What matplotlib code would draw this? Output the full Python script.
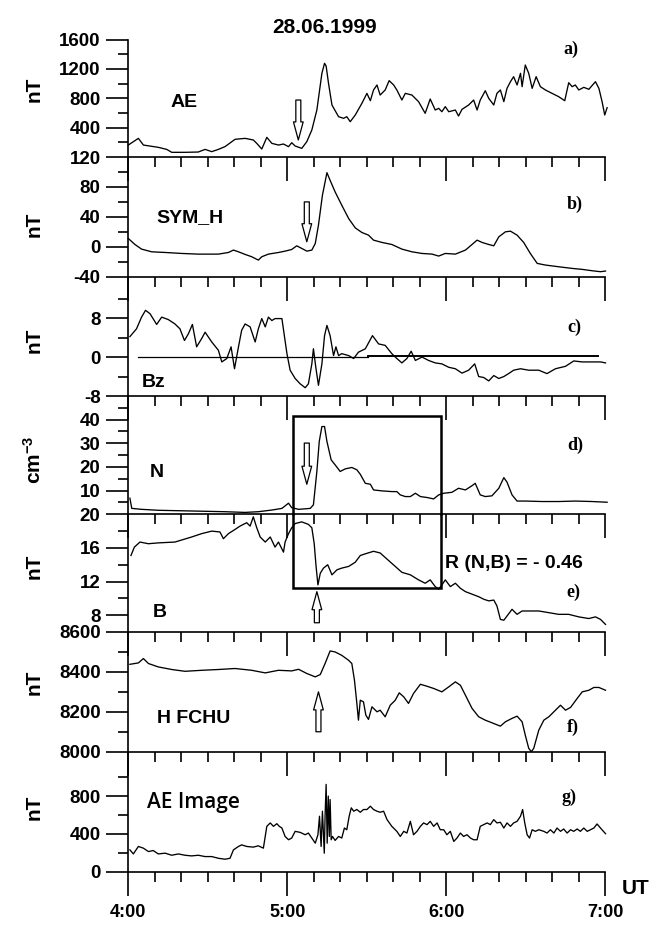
import matplotlib
matplotlib.use("Agg")
import matplotlib.pyplot as plt

plt.rcParams["font.family"] = ["Liberation Sans", "DejaVu Sans"]
plt.rcParams["font.weight"] = "bold"
plt.rcParams["mathtext.fontset"] = "custom"
plt.rcParams["mathtext.bf"] = "Liberation Sans:bold"
plt.rcParams["mathtext.rm"] = "Liberation Sans:bold"
plt.rcParams["mathtext.default"] = "bf"

# minutes after 04:00 UT, 28.06.1999
ae_t = [0.0, 3.8, 5.7, 11.3, 14.5, 16.4, 21.4, 26.4, 29.0, 31.5, 34.0, 36.5, 40.3, 44.1, 47.2, 48.5,
        50.4, 52.3, 54.2, 56.7, 58.6, 60.5, 61.7, 63.0, 65.5, 67.4, 69.3, 71.2, 73.1, 74.1, 74.7, 75.6,
        76.9, 79.4, 81.3, 82.5, 83.8, 85.7, 88.2, 90.1, 91.4, 92.6, 93.9, 95.1, 97.0, 98.5, 100.2, 101.4,
        103.3, 104.6, 107.1, 109.6, 112.1, 114.0, 115.9, 117.2, 118.4, 119.7, 121.0, 123.5, 124.7, 126.0,
        128.5, 130.4, 131.7, 132.9, 134.8, 136.1, 138.0, 139.2, 140.5, 141.8, 143.0, 144.3, 145.5, 146.8,
        148.1, 148.7, 149.9, 151.2, 152.5, 154.0, 155.6, 157.5, 160.0, 162.5, 164.8, 166.3, 167.6, 168.8,
        170.1, 172.0, 173.9, 176.4, 177.7, 178.9, 179.9, 180.8]
ae = [163, 254, 163, 132, 104, 64, 64, 68, 104, 73, 104, 141, 241, 254, 232, 186,
      109, 268, 186, 163, 177, 141, 195, 150, 118, 209, 368, 640, 1140, 1276, 1239, 1003,
      708, 549, 527, 549, 481, 572, 731, 867, 767, 913, 981, 844, 913, 1040, 981, 913,
      776, 867, 844, 754, 595, 790, 640, 663, 617, 686, 617, 640, 558, 649,
      708, 776, 640, 776, 903, 799, 708, 867, 913, 754, 935, 1026, 1094, 981,
      1140, 958, 1253, 1140, 935, 1094, 958, 913, 867, 822, 767, 1012, 958, 981,
      913, 949, 922, 1026, 935, 754, 572, 672]

symh_t = [0.0, 2.5, 5.0, 8.8, 13.9, 20.2, 26.4, 34.0, 37.8, 39.7, 41.6, 44.1, 46.6, 49.1, 50.4, 52.9,
          56.7, 59.2, 61.7, 63.6, 65.5, 67.4, 69.3, 70.6, 71.8, 73.3, 75.0, 76.2, 78.1, 80.6, 83.2, 85.7,
          88.2, 90.7, 92.6, 95.8, 99.5, 103.3, 107.1, 110.9, 114.7, 117.2, 119.7, 123.5, 127.3, 129.8,
          131.7, 133.6, 136.1, 138.0, 139.9, 142.4, 144.3, 146.8, 149.3, 151.8, 154.4, 157.5, 162.5,
          167.6, 171.4, 175.1, 178.3, 180.2]
symh = [11.1, 3.1, -3.1, -6.7, -7.6, -8.9, -9.8, -9.8, -7.6, -4.4, -6.7, -10.2, -13.3, -17.8, -13.3, -9.8,
        -7.6, -5.8, -3.6, 1.3, -2.2, -5.8, -4.4, 4.4, 28.9, 68.9, 99.1, 88.9, 73.3, 55.6, 37.8, 25.3,
        19.1, 15.6, 8.9, 5.8, 3.1, -3.1, -6.7, -8.9, -9.8, -12.4, -8.9, -9.8, -4.4, 3.1,
        8.9, 5.8, 3.1, 1.3, 13.3, 20.0, 20.9, 15.6, 5.8, -8.9, -22.2, -24.4, -26.7,
        -28.9, -30.2, -32.0, -33.3, -32.4]

bz_t = [0.6, 3.1, 5.0, 6.5, 8.2, 10.7, 12.6, 15.1, 17.6, 19.5, 21.2, 22.7, 24.2, 25.8, 27.7, 29.0,
        31.5, 34.0, 35.3, 37.2, 38.8, 40.1, 41.6, 42.8, 44.1, 46.0, 47.9, 49.1, 50.4, 51.7, 52.9, 54.2,
        55.4, 58.0, 59.0, 59.9, 61.1, 63.0, 64.9, 66.8, 68.0, 69.3, 69.9, 70.8, 71.8, 73.1, 74.1, 75.0,
        76.2, 77.5, 78.4, 79.4, 80.6, 83.2, 85.1, 86.9, 89.5, 92.2, 94.5, 97.0, 99.5, 101.4, 103.3,
        105.2, 106.8, 108.4, 110.9, 113.4, 115.9, 118.4, 121.0, 123.5, 126.0, 128.5, 130.8, 132.3,
        134.2, 136.1, 138.0, 139.9, 141.8, 143.6, 145.5, 148.1, 151.2, 155.0, 158.1, 161.3, 165.1,
        168.2, 171.4, 175.1, 178.3, 180.2]
bz = [4.2, 5.8, 8.2, 9.6, 8.9, 6.7, 8.2, 7.7, 6.8, 5.8, 3.4, 4.8, 6.7, 2.1, 3.8, 5.1,
      3.1, 1.4, -1.0, -0.3, 2.1, -2.4, 2.1, 5.5, 6.8, 6.2, 3.1, 5.8, 7.9, 6.2, 8.2, 7.5,
      7.9, 7.9, 4.1, 0.7, -2.7, -4.4, -5.5, -6.3, -5.5, -1.4, 1.7, -2.1, -5.8, -1.4, 4.4, 6.5,
      4.4, 0.3, 2.1, 0.3, 0.7, 0.3, -0.3, 1.0, 1.7, 4.4, 2.7, 2.4, 0.7, -0.3, -1.2,
      -0.3, 1.2, -0.7, 0.0, -0.7, -1.2, -1.4, -2.1, -2.4, -3.3, -2.7, -1.4, -4.0,
      -4.2, -4.9, -3.8, -4.4, -4.0, -3.4, -2.7, -2.4, -2.7, -2.7, -3.4, -2.4, -1.9,
      -0.8, -1.0, -1.0, -1.0, -1.2]
# horizontal reference segments drawn at Bz = 0: (start, end, level)
bz_zero = [(3.5, 90.6, 0.0), (90.6, 177.3, 0.3)]

n_t = [0.6, 1.3, 5.0, 11.3, 23.9, 36.5, 44.1, 49.1, 54.2, 58.0, 60.5, 61.7, 64.3, 68.7, 69.9, 71.2,
       72.1, 73.1, 74.1, 75.0, 76.6, 78.1, 80.0, 81.9, 84.4, 86.3, 87.6, 89.5, 91.4, 92.6, 95.8, 99.5,
       101.4, 102.7, 104.6, 106.5, 108.4, 110.3, 112.8, 115.3, 117.2, 119.1, 122.2, 124.7, 127.3,
       129.8, 131.0, 132.9, 134.8, 137.3, 139.9, 141.8, 143.0, 144.9, 146.8, 149.9, 156.2, 162.5,
       168.8, 175.1, 180.8]
n_dens = [6.8, 2.5, 2.1, 1.7, 1.4, 1.1, 0.8, 1.1, 1.8, 2.5, 4.7, 2.8, 2.1, 2.5, 4.0, 18.1,
          30.8, 37.1, 37.1, 30.8, 23.0, 20.9, 18.1, 19.2, 19.8, 18.8, 16.9, 13.1, 12.7, 10.3, 9.9, 9.6,
          9.6, 8.2, 7.5, 7.5, 8.9, 7.5, 7.1, 6.5, 8.2, 8.9, 9.3, 11.0, 10.3,
          12.1, 13.1, 8.2, 7.5, 7.8, 11.0, 15.5, 13.6, 8.2, 5.6, 5.6, 5.4, 5.4,
          5.6, 5.4, 5.1]

b_t = [1.0, 2.3, 4.4, 7.6, 11.3, 17.6, 23.9, 27.7, 31.5, 34.6, 35.9, 37.8, 40.3, 42.2, 44.7, 46.0,
       47.2, 48.5, 49.8, 51.7, 53.6, 55.4, 56.7, 58.6, 59.2, 60.5, 61.7, 63.0, 65.5, 68.0, 69.3, 70.2,
       70.9, 71.6, 72.5, 73.7, 75.3, 76.9, 78.8, 80.6, 83.2, 85.7, 87.6, 89.5, 92.6, 95.1, 98.3, 100.8,
       103.3, 106.5, 109.6, 112.1, 114.0, 115.9, 117.2, 118.4, 119.7, 121.6, 123.5, 125.4, 127.3,
       129.8, 132.3, 134.2, 136.1, 138.0, 139.2, 140.5, 141.8, 143.0, 144.9, 146.8, 148.7, 151.2,
       155.0, 158.8, 162.5, 166.3, 170.1, 173.9, 176.4, 178.3, 180.2]
b_mag = [15.1, 16.1, 16.7, 16.5, 16.6, 16.7, 17.3, 17.7, 18.0, 17.9, 17.1, 17.7, 18.2, 18.6, 19.0, 18.6,
         19.7, 18.4, 17.3, 16.7, 17.3, 16.1, 16.7, 15.5, 16.7, 17.7, 18.4, 18.9, 19.1, 18.8, 18.4, 16.5,
         13.8, 11.6, 13.0, 13.6, 14.0, 12.8, 13.4, 13.6, 13.8, 14.3, 15.1, 15.3, 15.6, 15.4, 14.5, 13.8,
         13.1, 12.8, 12.2, 11.8, 12.2, 11.4, 11.1, 11.6, 12.2, 11.4, 11.8, 11.2, 10.8,
         10.5, 10.2, 9.9, 9.7, 9.8, 9.1, 7.5, 7.4, 7.9, 8.7, 8.1, 8.5, 8.5,
         8.5, 8.3, 8.1, 8.1, 7.8, 7.6, 7.8, 7.5, 6.9]

# N-B correlation window: start, end (min), top in N, bottom in B
win_t0, win_t1 = 62.1, 118.1
win_n_top, win_b_bottom = 41.4, 11.2
corr_nb = -0.46

h_t = [0.6, 3.8, 5.7, 7.6, 11.3, 16.4, 21.4, 27.7, 34.0, 40.3, 46.6, 51.7, 56.7, 61.7, 64.3, 67.4,
       70.6, 72.5, 74.3, 76.2, 78.1, 80.6, 83.2, 84.4, 85.4, 86.3, 86.9, 87.6, 88.8, 89.7, 90.7, 92.0,
       93.9, 95.1, 97.0, 98.9, 100.8, 102.3, 104.0, 105.8, 107.7, 110.3, 112.8, 115.3, 118.4, 121.0,
       123.5, 125.4, 127.3, 129.8, 132.3, 134.8, 137.3, 140.5, 142.4, 144.9, 146.8, 148.7, 149.9,
       151.2, 152.2, 153.1, 155.0, 156.9, 158.8, 161.3, 163.2, 165.1, 167.0, 169.5, 171.4, 173.9,
       175.8, 177.7, 180.2]
h_fchu = [8438, 8445, 8467, 8442, 8425, 8412, 8403, 8408, 8412, 8417, 8408, 8395, 8408, 8405, 8413, 8392,
          8375, 8387, 8442, 8505, 8500, 8483, 8458, 8442, 8358, 8242, 8158, 8258, 8250, 8183, 8162, 8225,
          8200, 8208, 8175, 8233, 8258, 8295, 8275, 8242, 8292, 8338, 8328, 8317, 8300, 8325,
          8350, 8333, 8283, 8217, 8175, 8158, 8145, 8128, 8150, 8167, 8178, 8150, 8083,
          8017, 8000, 8017, 8108, 8158, 8175, 8208, 8233, 8208, 8222, 8267, 8300, 8308,
          8322, 8322, 8308]

aei_t = [0.6, 1.9, 3.8, 5.7, 7.6, 9.4, 11.3, 13.9, 16.4, 18.9,
         21.4, 23.9, 26.4, 29.0, 31.5, 34.0, 36.5, 38.4, 39.7, 41.6,
         42.8, 44.7, 47.2, 49.1, 51.0, 52.3, 53.6, 54.8, 56.1, 57.0,
         58.0, 59.2, 60.5, 61.7, 63.0, 64.9, 66.8, 68.0, 69.3, 70.6,
         71.6, 72.2, 72.8, 73.3, 74.0, 74.3, 74.7, 75.1, 75.5, 75.9,
         76.2, 76.6, 77.1, 78.1, 79.4, 80.6, 81.6, 82.5, 83.4, 84.2,
         85.1, 86.3, 87.6, 88.8, 90.1, 91.4, 92.6, 93.9, 95.1, 96.4,
         97.7, 99.5, 101.4, 102.7, 104.0, 105.2, 106.5, 107.7, 109.0, 110.3,
         111.5, 112.8, 114.0, 115.3, 116.6, 117.8, 119.1, 120.3, 121.6, 122.9,
         124.1, 125.4, 126.6, 127.9, 129.2, 130.4, 131.7, 132.9, 134.2, 135.5,
         136.7, 138.0, 139.2, 140.5, 141.8, 143.0, 144.3, 145.5, 146.8, 148.1,
         148.9, 149.7, 150.6, 151.5, 152.5, 153.7, 155.0, 156.9, 158.1, 159.4,
         160.7, 161.9, 163.2, 164.4, 165.7, 167.0, 168.2, 169.5, 170.7, 172.0,
         173.3, 174.5, 175.8, 177.0, 178.3, 180.2]
ae_image = [231, 188, 267, 249, 213, 224, 188, 196, 174, 188,
            174, 167, 174, 160, 160, 142, 132, 142, 231, 267,
            284, 267, 260, 274, 249, 480, 516, 480, 508, 480,
            462, 373, 338, 356, 427, 416, 391, 409, 356, 302,
            391, 587, 267, 640, 196, 587, 924, 302, 800, 373,
            764, 338, 373, 331, 373, 356, 462, 444, 587, 676,
            640, 658, 629, 658, 658, 693, 658, 640, 629, 640,
            551, 480, 427, 373, 427, 409, 533, 391, 427, 480,
            516, 498, 533, 480, 516, 444, 444, 391, 427, 320,
            356, 409, 373, 391, 356, 338, 338, 480, 498, 516,
            498, 551, 516, 523, 462, 516, 480, 516, 533, 587,
            658, 516, 391, 356, 444, 427, 444, 427, 409, 444,
            409, 462, 427, 452, 409, 444, 427, 452, 427, 462,
            427, 444, 462, 505, 462, 402]

# onset arrows: (panel, time, tip, tail)
onset_arrows = [(0, 64.2, 232, 776), (1, 67.4, 6.7, 60), (3, 67.4, 12.7, 30.1),
                (4, 71.2, 10.8, 7.1), (5, 71.8, 8300, 8100)]

time_ticks = [0, 60, 120, 180]
time_labels = ["4:00", "5:00", "6:00", "7:00"]

panels = [
    dict(t=ae_t, y=ae, ylim=(0, 1600), major=[400, 800, 1200, 1600], minor=[200, 600, 1000, 1400],
         unit="nT", unit_y=0.577, name="AE", name_xy=(0.0875, 0.4255), letter="a)", letter_xy=(0.912, 0.877)),
    dict(t=symh_t, y=symh, ylim=(-40, 120), major=[-40, 0, 40, 80, 120], minor=[-20, 20, 60, 100],
         unit="nT", unit_y=0.44, name="SYM_H", name_xy=(0.0596, 0.457), letter="b)", letter_xy=(0.920, 0.566)),
    dict(t=bz_t, y=bz, ylim=(-8, 16.5), major=[-8, 0, 8], minor=[-4, 4, 12],
         unit="nT", unit_y=0.47, name="Bz", name_xy=(0.0281, 0.078), letter="c)", letter_xy=(0.922, 0.536)),
    dict(t=n_t, y=n_dens, ylim=(0, 50), major=[10, 20, 30, 40], minor=[5, 15, 25, 35, 45],
         unit="cm$^{-3}$", unit_y=0.465, name="N", name_xy=(0.0455, 0.318), letter="d)", letter_xy=(0.920, 0.543)),
    dict(t=b_t, y=b_mag, ylim=(6, 20), major=[8, 12, 16, 20], minor=[10, 14, 18],
         unit="nT", unit_y=0.56, name="B", name_xy=(0.0518, 0.130), letter="e)", letter_xy=(0.920, 0.297)),
    dict(t=h_t, y=h_fchu, ylim=(8000, 8600), major=[8000, 8200, 8400, 8600], minor=[8100, 8300, 8500],
         unit="nT", unit_y=0.577, name="H FCHU", name_xy=(0.0596, 0.240), letter="f)", letter_xy=(0.920, 0.165)),
    dict(t=aei_t, y=ae_image, ylim=(0, 1270), major=[0, 400, 800], minor=[200, 600, 1000],
         unit="nT", unit_y=0.535, name="AE Image", name_xy=(0.0386, 0.531), letter="g)", letter_xy=(0.909, 0.581)),
]

fig = plt.figure(figsize=(6.52, 9.30), dpi=100)
gs = fig.add_gridspec(7, 1, left=0.1968, right=0.9279, top=0.9575, bottom=0.0627, hspace=0,
                      height_ratios=[117.5, 119.7, 119.3, 118.3, 117.7, 119.7, 120])
axs = [fig.add_subplot(gs[i]) for i in range(7)]

tick_font = dict(fontfamily=["Liberation Sans", "DejaVu Sans"], fontsize=13.5, fontweight="bold")

for ax, p in zip(axs, panels):
    ax.plot(p["t"], p["y"], color="black", lw=0.95, clip_on=False)
    ax.set_xlim(0, 180)
    ax.set_ylim(*p["ylim"])
    ax.patch.set_visible(False)
    ax.spines["top"].set_visible(False)
    ax.spines["right"].set_visible(False)
    for s in ("left", "bottom"):
        ax.spines[s].set_linewidth(1.2)

    ax.set_xticks(time_ticks)
    ax.set_xticks(range(0, 181, 10), minor=True)
    ax.set_yticks(p["major"], [f"{v:g}" for v in p["major"]], **tick_font)
    ax.set_yticks(p["minor"], minor=True)
    ax.tick_params(axis="x", which="major", direction="out", length=17, width=1.2, labelbottom=False)
    ax.tick_params(axis="x", which="minor", direction="out", length=7, width=1.2)
    ax.tick_params(axis="y", which="major", direction="out", length=16, width=1.2, pad=4)
    ax.tick_params(axis="y", which="minor", direction="out", length=7, width=1.2)

    ax.set_ylabel(p["unit"], fontsize=15, fontweight="bold", va="center")
    ax.yaxis.set_label_coords(-0.198, p["unit_y"])

    name_font = dict(fontsize=14, fontweight="bold")
    if p["name"] == "AE Image":
        name_font = dict(fontsize=15, fontweight="semibold", fontfamily=["Open Sans", "Liberation Sans"])
    ax.text(*p["name_xy"], p["name"], transform=ax.transAxes, ha="left", va="baseline", **name_font)
    ax.text(*p["letter_xy"], p["letter"], transform=ax.transAxes, ha="left", va="baseline",
            fontsize=13, fontweight="bold", fontfamily=["Liberation Serif", "DejaVu Serif"])

# Bz zero reference
for t0, t1, lev in bz_zero:
    axs[2].plot([t0, t1], [lev, lev], color="black", lw=0.9 if lev == 0 else 1.4)

# correlation window spanning the N and B panels
box = dict(color="black", lw=1.8, clip_on=False, solid_joinstyle="miter")
axs[3].plot([win_t0, win_t0, win_t1, win_t1], [0, win_n_top, win_n_top, 0], **box)
axs[4].plot([win_t0, win_t0, win_t1, win_t1], [20, win_b_bottom, win_b_bottom, 20], **box)
axs[4].text(0.664, 0.548, f"R (N,B) = - {abs(corr_nb):.2f}", transform=axs[4].transAxes,
            ha="left", va="baseline", fontsize=14, fontweight="bold")

for idx, t, tip, tail in onset_arrows:
    axs[idx].annotate("", xy=(t, tip), xytext=(t, tail),
                      arrowprops=dict(arrowstyle="simple,head_length=1.3,head_width=0.7,tail_width=0.36",
                                      fc="white", ec="black", lw=0.9, shrinkA=0, shrinkB=0,
                                      mutation_scale=10))

bottom = axs[-1]
bottom.set_xticks(time_ticks, time_labels, fontsize=13, fontweight="bold")
bottom.tick_params(axis="x", which="major", labelbottom=True, pad=6)

fig.text(325 / 652, 1 - 33 / 930, "28.06.1999", ha="center", va="baseline", fontsize=15, fontweight="bold")
fig.text(622 / 652, 1 - 888 / 930, "UT", ha="left", va="center", fontsize=15, fontweight="bold")

fig.savefig("out.png", dpi=100)
